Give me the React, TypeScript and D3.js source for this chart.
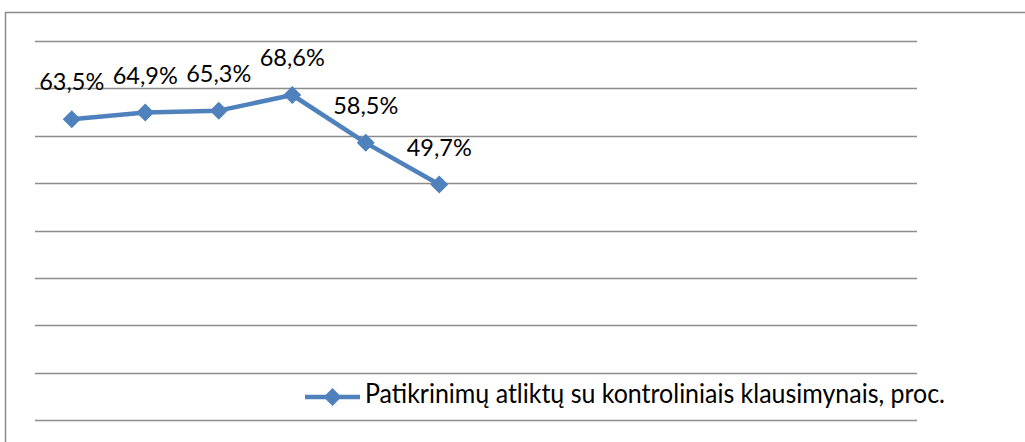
import React from "react";
import * as d3 from "d3";

const categories = ["1", "2", "3", "4", "5", "6", "7", "8", "9", "10", "11", "12"];
const valueLabels = ["63,5%", "64,9%", "65,3%", "68,6%", "58,5%", "49,7%"];
const values = [63.5, 64.9, 65.3, 68.6, 58.5, 49.7];
const yTicks = [0, 10, 20, 30, 40, 50, 60, 70, 80];
const seriesName = "Patikrinimų atliktų su kontroliniais klausimynais, proc.";

const W = 1025;
const H = 442;
const BLUE = "#4f81bd";
const FONT = "Lato, sans-serif";

function diamond(cx: number, cy: number, r: number) {
  return `M${cx},${cy - r}L${cx + r},${cy}L${cx},${cy + r}L${cx - r},${cy}Z`;
}

export default function App() {
  const x = d3.scaleBand<string>().domain(categories).range([35, 917]).padding(0);
  const y = d3.scaleLinear().domain([0, 80]).range([420, 41]);
  const cx = (i: number) => (x(categories[i]) as number) + x.bandwidth() / 2;
  const pts = values.map((v, i) => [cx(i), y(v)] as [number, number]);
  const line = d3.line<[number, number]>().x((d) => d[0]).y((d) => d[1])(pts) || "";

  return (
    <svg
      width={W}
      height={H}
      style={{ position: "absolute", left: 0, top: 0, background: "#fff" }}
    >
      <rect x={0} y={0} width={W} height={H} fill="#fff" />
      {/* frame */}
      <line x1={5.5} y1={12} x2={5.5} y2={H} stroke="#8a8a8a" strokeWidth={1.5} />
      <line x1={5} y1={12.5} x2={W} y2={12.5} stroke="#8a8a8a" strokeWidth={1.5} />
      {/* gridlines */}
      {yTicks.map((t) => (
        <line
          key={t}
          x1={35}
          x2={917}
          y1={Math.round(y(t)) + 0.5}
          y2={Math.round(y(t)) + 0.5}
          stroke="#8c8c8c"
          strokeWidth={1.6}
        />
      ))}
      {/* series line */}
      <path d={line} fill="none" stroke={BLUE} strokeWidth={4.5} strokeLinejoin="round" />
      {pts.map((p, i) => (
        <path key={i} d={diamond(p[0], p[1], 9)} fill={BLUE} />
      ))}
      {/* data labels */}
      {pts.map((p, i) => (
        <text
          key={"l" + i}
          x={p[0]}
          y={p[1] - 29}
          textAnchor="middle"
          fontFamily={FONT}
          fontSize={24}
          fontWeight={400}
          fill="#000"
          textLength={65}
          lengthAdjust="spacingAndGlyphs"
        >
          {valueLabels[i]}
        </text>
      ))}
      {/* legend */}
      <line x1={305} x2={360} y1={397} y2={397} stroke={BLUE} strokeWidth={4.5} />
      <path d={diamond(332.5, 397, 9)} fill={BLUE} />
      <text
        x={365}
        y={403}
        fontFamily={FONT}
        fontSize={26}
        fontWeight={400}
        fill="#000"
        textLength={580}
        lengthAdjust="spacingAndGlyphs"
      >
        {seriesName}
      </text>
    </svg>
  );
}
